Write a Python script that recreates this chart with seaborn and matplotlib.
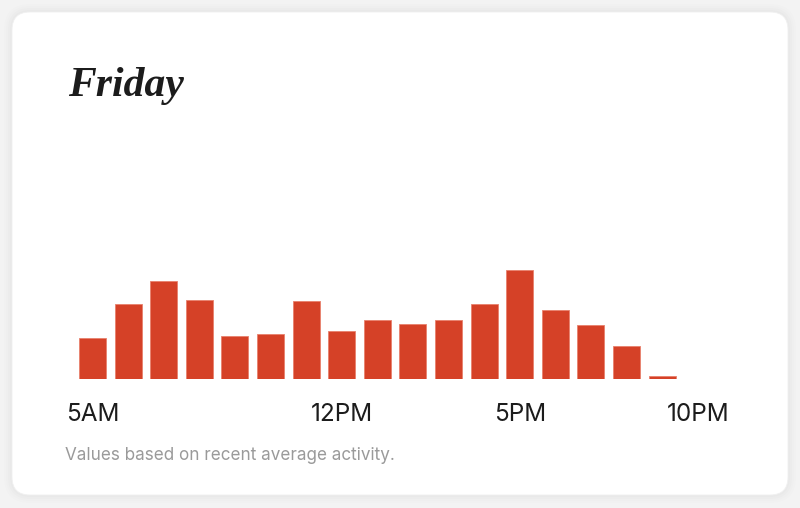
import numpy as np
import pandas as pd
import matplotlib
matplotlib.use("Agg")
import matplotlib.pyplot as plt
from matplotlib.patches import FancyBboxPatch
import seaborn as sns

# data (relative busyness, peak = 100)
hours = ["5AM", "6AM", "7AM", "8AM", "9AM", "10AM", "11AM", "12PM", "1PM",
         "2PM", "3PM", "4PM", "5PM", "6PM", "7PM", "8PM", "9PM"]
busyness = [38, 69, 90, 73, 40, 42, 72, 44, 54, 51, 54, 69, 100, 64, 50, 31, 3]
tick_pos = [0, 7, 12, 17]
tick_labels = ["5AM", "12PM", "5PM", "10PM"]

df = pd.DataFrame({"hour": hours, "busy": busyness})

sns.set_theme(style="white")
plt.rcParams["font.family"] = ["Inter", "DejaVu Sans"]

W, H = 800, 508
fig = plt.figure(figsize=(W / 100, H / 100), dpi=100)
fig.patch.set_facecolor("#f3f3f3")

# card with a soft shadow
for i, a in enumerate([0.012, 0.01, 0.008, 0.006]):
    g = (i + 1) * 2
    fig.patches.append(FancyBboxPatch(
        ((12 - g) / W, (H - 495 - g) / H), (776 + 2 * g) / W, (483 + 2 * g) / H,
        boxstyle=f"round,pad=0,rounding_size={(18 + g) / W}",
        transform=fig.transFigure, facecolor="black", alpha=a, edgecolor="none",
        mutation_aspect=W / H, zorder=-2))
fig.patches.append(FancyBboxPatch(
    (12 / W, (H - 495) / H), 776 / W, 483 / H,
    boxstyle=f"round,pad=0,rounding_size={18 / W}",
    transform=fig.transFigure, facecolor="white", edgecolor="#f0f0f0", lw=0.6,
    mutation_aspect=W / H, zorder=-1))

# 18 slots of 35.6 px, first bar centred at x=92.5
ax = fig.add_axes([74.7 / W, (H - 379.3) / H, 640.8 / W, 109 / H])
ax.set_facecolor("none")
ax.set_zorder(2)
sns.barplot(data=df, x="hour", y="busy", color="#d54127", width=0.76,
            saturation=1, ax=ax, order=hours)
for p in ax.patches:
    p.set_edgecolor("#e8806c")
    p.set_linewidth(0.6)

ax.set_xlim(-0.5, 17.5)
ax.set_ylim(0, 100)
ax.set_xticks(tick_pos)
ax.set_xticklabels(tick_labels, fontsize=17.5, color="#1c1c1c")
ax.tick_params(axis="x", length=0, pad=17)
ax.set_yticks([])
ax.set_xlabel("")
ax.set_ylabel("")
sns.despine(ax=ax, left=True, bottom=True)

fig.text(68 / W, 1 - 96 / H, "Friday", family=["Liberation Serif", "DejaVu Serif"],
         weight="bold", style="italic", fontsize=30, color="#1c1c1c",
         va="baseline", ha="left")
fig.text(65 / W, 1 - 460 / H, "Values based on recent average activity.",
         fontsize=12.3, color="#9a9a9a", va="baseline", ha="left")

fig.savefig("out.png", dpi=100, facecolor=fig.get_facecolor())
